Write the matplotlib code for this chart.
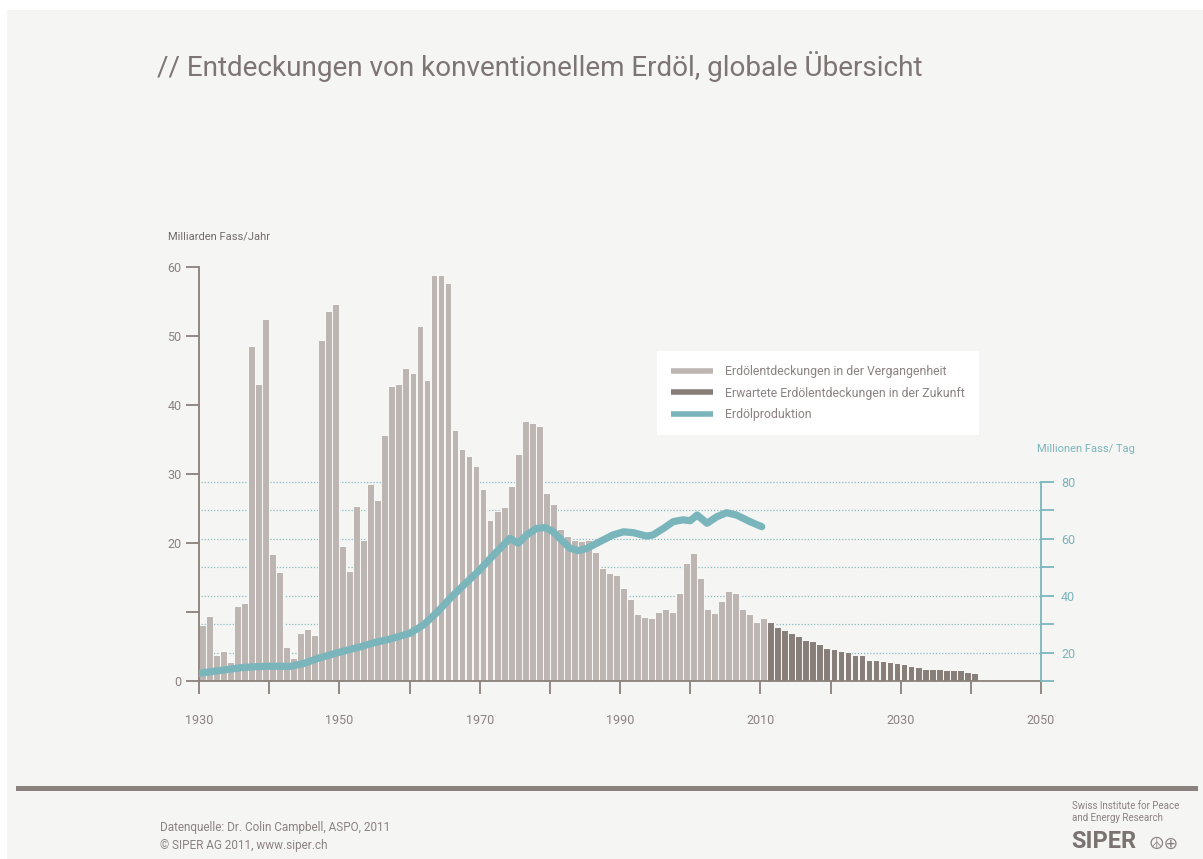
import matplotlib
matplotlib.use("Agg")
import matplotlib.pyplot as plt
from matplotlib.lines import Line2D
from matplotlib.patches import Rectangle

plt.rcParams['font.family'] = ['Roboto', 'DejaVu Sans']

# discoveries (Mrd. Fass/Jahr)
past_years = list(range(1930, 2011))
past_vals = [8.1, 9.4, 3.8, 4.3, 2.8, 10.8, 11.3, 48.5, 43.0, 52.4,
             18.4, 15.8, 5.0, 3.3, 6.9, 7.6, 6.6, 49.4, 53.6, 54.7,
             19.5, 15.9, 25.4, 20.5, 28.5, 26.2, 35.6, 42.8, 43.1, 45.3,
             44.6, 51.4, 43.6, 58.9, 58.9, 57.7, 36.4, 33.6, 32.6, 31.2,
             27.8, 23.3, 24.6, 25.2, 28.3, 32.9, 37.7, 37.4, 37.0, 27.2,
             25.7, 22.0, 21.0, 20.5, 20.3, 20.5, 18.7, 16.4, 15.6, 15.4,
             13.5, 11.9, 9.7, 9.3, 9.2, 10.0, 10.4, 10.0, 12.7, 17.1,
             18.5, 15.0, 10.4, 9.8, 11.6, 13.0, 12.7, 10.5, 9.7, 8.6,
             9.1]
future_years = list(range(2011, 2041))
future_vals = [8.6, 7.8, 7.4, 7.0, 6.5, 6.0, 5.8, 5.3, 4.8, 4.6,
               4.3, 4.2, 3.7, 3.7, 3.1, 3.1, 2.9, 2.7, 2.6, 2.4,
               2.2, 2.0, 1.8, 1.8, 1.8, 1.55, 1.55, 1.55, 1.35, 1.15]

# production (Mio. Fass/Tag)
prod_years = [1930, 1933, 1936, 1938, 1940, 1943, 1945, 1947, 1950, 1953,
              1955, 1957, 1960, 1962, 1964, 1966, 1968, 1970, 1972, 1974.3,
              1975.5, 1976.7, 1978.1, 1979.3, 1980.5, 1981.4, 1982.9, 1984.1, 1985.3, 1987.1,
              1989, 1990.5, 1991.9, 1993.8, 1994.7, 1996.2, 1997.6, 1999, 2000, 2001,
              2002.4, 2003.8, 2005.2, 2006.6, 2008.5, 2010.2]
prod_vals = [12.7, 13.7, 14.7, 15.0, 15.2, 15.1, 16.2, 18.0, 20.1, 22.0,
             23.5, 24.6, 26.7, 29.7, 34.3, 39.6, 44.3, 49.0, 54.3, 60.1,
             58.4, 61.3, 63.6, 63.9, 62.4, 60.1, 56.6, 55.8, 56.6, 58.9,
             61.3, 62.4, 62.1, 60.9, 61.3, 63.6, 66.0, 66.6, 66.3, 68.3,
             65.4, 67.7, 69.1, 68.3, 66.0, 64.2]

left_ticks = [0, 10, 20, 30, 40, 50, 60]
left_labels = ['0', '', '20', '30', '40', '50', '60']
right_ticks = [10, 20, 30, 40, 50, 60, 70, 80]
right_labels = ['', '20', '', '40', '', '60', '', '80']
grid_vals = [20, 30, 40, 50, 60, 70, 80]
x_ticks = list(range(1930, 2051, 10))
x_labels = ['1930', '', '1950', '', '1970', '', '1990', '', '2010', '', '2030', '', '2050']

light = '#bdb5b2'
dark = '#877d79'
teal = '#7ab5bc'
axcol = '#8a807c'
txtcol = '#8a8280'

W, H = 1203, 859
fig = plt.figure(figsize=(W / 100, H / 100), dpi=100)
fig.patch.set_facecolor('white')
fig.patches.append(Rectangle((7 / W, 0), 1, 1 - 10 / H, transform=fig.transFigure,
                             facecolor='#f5f5f3', edgecolor='none', zorder=-5))

def px(x, y):
    return x / W, 1 - y / H

x0, x1 = 199, 1041
y0, y60 = 681, 267
ax = fig.add_axes([x0 / W, (H - y0) / H, (x1 - x0) / W, (y0 - y60) / H])
ax.set_facecolor('none')
ax.set_xlim(1930, 2050)
ax.set_ylim(0, 60)

ax2 = ax.twinx()
ax2.set_ylim(10, 10 + (y0 - y60) / 2.847)

# dotted grid (right-axis units) behind the bars
ax.hlines(grid_vals, 1930.3, 2050, transform=ax2.transData, colors='#86bcc3',
          linestyles=(0, (1, 1.5)), linewidth=0.9, zorder=1)

ax.bar(past_years, past_vals, width=0.97, align='edge', color=light,
       edgecolor='#f7f7f5', linewidth=0.75, zorder=2)
ax.bar(future_years, future_vals, width=0.97, align='edge', color=dark,
       edgecolor='#f7f7f5', linewidth=0.75, zorder=2)

ax2.plot(prod_years, prod_vals, color=teal, linewidth=5.2, solid_capstyle='round',
         solid_joinstyle='round', zorder=3)

for s in ['top', 'right']:
    ax.spines[s].set_visible(False)
ax.spines['left'].set_color(axcol)
ax.spines['bottom'].set_color(axcol)
ax.spines['left'].set_linewidth(1.3)
ax.spines['bottom'].set_linewidth(1.3)
ax.spines['bottom'].set_zorder(3)
ax.set_yticks(left_ticks)
ax.set_yticklabels(left_labels)
ax.set_xticks(x_ticks)
ax.set_xticklabels(x_labels)
ax.tick_params(axis='y', length=9.5, width=1.3, color=axcol, labelcolor=txtcol,
               labelsize=9, pad=3)
ax.tick_params(axis='x', length=9.5, width=1.3, color=axcol, labelcolor=txtcol,
               labelsize=9, pad=14)

for s in ['top', 'left', 'bottom']:
    ax2.spines[s].set_visible(False)
ax2.spines['right'].set_bounds(10, 80)
ax2.spines['right'].set_color(teal)
ax2.spines['right'].set_linewidth(1.3)
ax2.set_yticks(right_ticks)
ax2.set_yticklabels(right_labels)
ax2.tick_params(axis='y', length=9.5, width=1.3, color=teal, labelcolor=teal,
                labelsize=9, pad=5)

handles = [Line2D([], [], color=light, lw=4, solid_capstyle='butt'),
           Line2D([], [], color=dark, lw=4, solid_capstyle='butt'),
           Line2D([], [], color=teal, lw=4, solid_capstyle='butt')]
labels = ['Erdölentdeckungen in der Vergangenheit',
          'Erwartete Erdölentdeckungen in der Zukunft',
          'Erdölproduktion']
leg = ax2.legend(handles, labels, loc='upper left',
                 bbox_to_anchor=px(657, 351), bbox_transform=fig.transFigure,
                 fontsize=8.8, frameon=True, fancybox=False, framealpha=1,
                 edgecolor='none', facecolor='white', handlelength=3.4,
                 handletextpad=1.05, labelspacing=0.7, borderpad=1.15,
                 borderaxespad=0)
for t in leg.get_texts():
    t.set_color(txtcol)

fig.text(*px(157, 67), '// Entdeckungen von konventionellem Erdöl, globale Übersicht',
         fontsize=20.1, color='#7c7573', va='center', ha='left')
fig.text(*px(168, 236), 'Milliarden Fass/Jahr', fontsize=8, color='#736b69',
         va='center', ha='left')
fig.text(*px(1037, 449), 'Millionen Fass/ Tag', fontsize=8, color=teal,
         va='center', ha='left')

fig.lines.append(Line2D([18 / W, 1195 / W], [1 - 788 / H] * 2, transform=fig.transFigure,
                        color='#8b817e', linewidth=3.6))

fig.text(*px(160, 827), 'Datenquelle: Dr. Colin Campbell, ASPO, 2011', fontsize=8.5,
         color=txtcol, va='center', ha='left')
fig.text(*px(160, 846), '© SIPER AG 2011, www.siper.ch', fontsize=8.5,
         color=txtcol, va='center', ha='left')

fig.text(*px(1072, 806), 'Swiss Institute for Peace', fontsize=7, color=txtcol,
         va='center', ha='left')
fig.text(*px(1072, 818), 'and Energy Research', fontsize=7, color=txtcol,
         va='center', ha='left')
fig.text(*px(1071, 842), 'SIPER', fontsize=17, fontweight='bold', color='#7a7371',
         va='center', ha='left')
fig.text(*px(1149, 844), '☮⊕', fontsize=12.5, color=txtcol, va='center', ha='left',
         family=['DejaVu Sans'])

fig.savefig('out.png', dpi=100, facecolor=fig.get_facecolor())
